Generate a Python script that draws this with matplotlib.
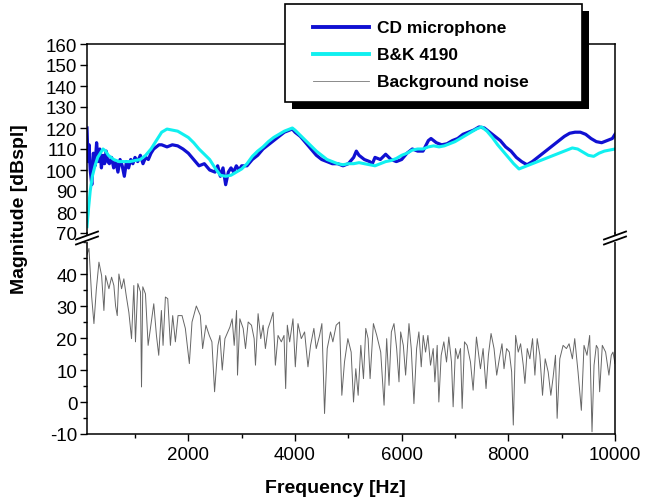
import numpy as np
import matplotlib
matplotlib.use("Agg")
import matplotlib.pyplot as plt
from matplotlib.lines import Line2D
from matplotlib.patches import Rectangle
from matplotlib.ticker import MultipleLocator

plt.rcParams['font.family'] = ['Liberation Sans', 'DejaVu Sans']
plt.rcParams['axes.unicode_minus'] = False

series_names = ["CD microphone", "B&K 4190", "Background noise"]

# CD microphone response (Hz, dBspl)
cd_freq = [100, 120, 140, 160, 190, 220, 250, 280, 310, 340, 370, 400, 430, 460, 490,
           520, 560, 600, 640, 680, 720, 760, 800, 840, 880, 920, 960, 1000, 1050, 1100,
           1150, 1200, 1250, 1300, 1350, 1400, 1450, 1500, 1600, 1700, 1800, 1900, 2000,
           2100, 2200, 2300, 2400, 2500, 2550, 2600, 2650, 2700, 2750, 2800, 2850, 2900,
           2950, 3000, 3100, 3200, 3300, 3400, 3500, 3600, 3700, 3800, 3900, 3950, 4000,
           4100, 4200, 4300, 4400, 4500, 4600, 4700, 4800, 4900, 5000, 5100, 5150, 5200,
           5300, 5400, 5450, 5500, 5600, 5700, 5800, 5900, 6000, 6100, 6200, 6300, 6400,
           6500, 6550, 6650, 6750, 6850, 6950, 7050, 7150, 7250, 7350, 7450, 7550, 7650,
           7750, 7850, 7950, 8050, 8150, 8250, 8350, 8450, 8550, 8650, 8750, 8850, 8950,
           9050, 9150, 9250, 9350, 9450, 9550, 9650, 9750, 9850, 9950, 10000]
cd_mag = [120, 104, 112, 100, 93, 108, 102, 113, 104, 110, 101, 107, 103, 109, 104,
          103, 106, 101, 104, 99, 105, 102, 97, 104, 101, 105, 103, 106, 104, 107,
          103, 106, 105, 108, 110, 111, 112, 112, 111, 112, 111.5, 110, 108,
          105, 102, 103, 100, 99, 102, 97, 101, 93, 99, 101, 99, 102,
          100, 102, 102, 105, 107, 110, 112, 114, 116, 118, 119, 119.5, 118,
          116, 113, 110, 107, 105, 104, 103, 103, 102, 103, 106, 109, 107,
          105, 104, 103, 106, 105, 107.5, 105, 104, 105, 108, 110, 109, 109,
          114, 115, 113, 112, 112.5, 114, 115, 117, 118, 119, 120.5, 120, 118,
          116, 114, 111, 109, 106, 104, 102.5, 104, 106, 108, 110, 112, 114,
          116, 117.5, 118, 118, 117, 115, 113.5, 113, 114, 115, 117]

# B&K 4190 reference microphone
bk_freq = [100, 130, 160, 200, 250, 300, 350, 400, 450, 500, 550, 600, 700, 800, 900,
           1000, 1100, 1200, 1300, 1400, 1500, 1600, 1700, 1800, 1900, 2000, 2100, 2200,
           2300, 2400, 2500, 2600, 2700, 2800, 2900, 3000, 3100, 3200, 3300, 3400, 3500,
           3600, 3700, 3800, 3900, 3950, 4000, 4100, 4200, 4300, 4400, 4500, 4600, 4700,
           4800, 4900, 5000, 5100, 5200, 5300, 5400, 5500, 5600, 5700, 5800, 5900, 6000,
           6100, 6200, 6300, 6400, 6500, 6600, 6700, 6800, 6900, 7000, 7100, 7200, 7300,
           7400, 7500, 7600, 7700, 7800, 7900, 8000, 8100, 8200, 8300, 8400, 8500, 8600,
           8700, 8800, 8900, 9000, 9100, 9200, 9300, 9400, 9500, 9600, 9700, 9800, 9900,
           10000]
bk_mag = [73, 82, 90, 97, 102, 106, 108, 110, 109, 107, 106, 105, 104, 104, 104,
          104.5, 105, 107, 110, 114, 118, 119.5, 119, 118.5, 117, 115.5, 113, 110,
          107.5, 105, 101, 97.5, 97, 97.5, 99, 100.5, 103, 106.5, 109, 111, 113.5,
          115.5, 117, 118.5, 119.5, 120, 119, 116.5, 114, 111.5, 109, 107, 105, 104,
          103, 102.5, 103, 103, 103.5, 103, 102.5, 102, 103, 104, 104.5, 105.5, 107,
          108, 109.5, 110, 110, 111, 111.5, 111, 111.5, 112.5, 113.5, 115, 116.5, 118,
          119.5, 120.5, 118.5, 115.5, 112, 109, 106, 103, 100.5, 101.5, 102.5, 103.5, 104.5,
          105.5, 106.5, 107.5, 108.5, 109.5, 110.5, 110, 108.5, 107, 106.5, 108, 109, 109.5,
          110]

# background noise
noise_freq = [100, 137, 187, 230, 274, 324, 374, 417, 449, 511, 561, 604, 636, 667, 698,
              748, 791, 835, 885, 935, 978, 1009, 1053, 1103, 1122, 1146, 1196, 1246, 1290,
              1352, 1402, 1445, 1495, 1526, 1570, 1614, 1664, 1707, 1757, 1807, 1882, 1944,
              2019, 2069, 2150, 2225, 2268, 2330, 2393, 2442, 2492, 2555,
              2592, 2636, 2686, 2779, 2822, 2860, 2904, 2922, 2966, 3028, 3072, 3122, 3184,
              3234, 3259, 3308, 3358, 3402, 3445, 3495, 3545, 3589, 3632, 3682, 3744, 3794,
              3825, 3856, 3900, 3962, 4006, 4056, 4118, 4180, 4243, 4292, 4354, 4398, 4461,
              4504, 4554, 4604, 4666, 4710, 4772, 4835, 4878, 4928, 4991, 5053,
              5097, 5140, 5184, 5234, 5284, 5327, 5371, 5408, 5470, 5533, 5607, 5670, 5719,
              5763, 5807, 5856, 5906, 5950, 5981, 6031, 6074, 6137, 6180, 6230, 6280, 6323,
              6367, 6404, 6448, 6492, 6541, 6591, 6623, 6666, 6697, 6741, 6791, 6841, 6884,
              6934, 6965, 7009, 7053, 7103, 7134, 7178, 7227, 7290, 7340, 7402, 7477, 7527,
              7582, 7626, 7676, 7732, 7782, 7831, 7881, 7919, 7968, 8018, 8062, 8093, 8137,
              8186, 8230, 8280, 8311, 8355, 8404, 8454, 8498, 8541, 8591, 8641, 8691, 8747,
              8797, 8840, 8884, 8915, 8965, 9027, 9089, 9139, 9201, 9245, 9307, 9369, 9419,
              9475, 9525, 9569, 9607, 9650, 9681, 9712, 9762, 9824, 9886, 9930, 9962, 10000]
noise_mag = [46, 48, 33, 24.5, 35, 43.7, 39.5, 28.6, 39.5, 35.4, 39, 36.4, 30, 27, 40,
             35.4, 38.5, 33.3, 28, 19.8, 36.4, 18.8, 37, 34.4, 4.7, 36, 33.8, 17.7, 23,
             30.7, 20.8, 14.6, 28.6, 17.7, 32.8, 32.3, 17.7, 27, 18.8, 27, 27, 23,
             12, 25, 30, 27, 16.7, 24, 20.8, 18.8, 3.2, 17.7,
             20.8, 10, 19.8, 23.4, 26, 17.7, 28.6, 8.4, 26, 23, 16.7, 25, 24,
             19.8, 11.5, 27.6, 19.8, 24, 16.7, 23, 25.5, 28, 11.5, 20.8, 18.8, 20.8,
             4.2, 24, 18.8, 26, 11, 24.5, 19.8, 21.9, 11, 17.7, 23, 16.7, 20.8,
             24.5, -3.6, 16.7, 21.9, 18.8, 24, 25, 2.1, 12.5, 19.8, 15.6,
             0, 10.4, 2.1, 17.7, 7.3, 23, 19.8, 7.3, 24.5, 20.8, 15.6, -1, 19.8,
             5.2, 21.9, 24.5, 16.7, 6.3, 21.9, 17.7, 8.4, 24.5, 16.7, -0.5, 16.7, 21.9,
             11, 20.8, 15.6, 20.8, 11.5, 16.7, 6.3, 17.7, 0, 14.6, 18.8, 12.5, 20.3,
             12.5, -1.5, 16.7, 13.5, 16.7, -2, 18.8, 17.7, 12.5, 3.7, 20.3, 10.4, 16.7,
             4.2, 14.6, 21.4, 16.7, 8.4, 13.5, 18.2, 10.4, 16.7, 15.6, 9.4, -7.2, 20.8,
             15.6, 18.2, 11.5, 5.8, 16.7, 13.5, 19.8, 8.4, 19.8, 14.6, 2.1, 13.5, 9.4,
             2.1, 7.8, 14.6, -5.1, 13.5, 17.7, 16.7, 18.2, 13.5, 19.8, 9.4, -2.6, 17.7,
             14.6, 20.8, -9.3, 11.5, 17.7, 16.7, 3.2, 17.7, 15.6, 8.4, 14.6, 15.6, 12]

W, H = 646, 502
fig = plt.figure(figsize=(W / 100, H / 100), dpi=100)

def fx(px):
    return px / W

def fy(py):
    return 1 - py / H

x0, x1 = 87, 615
ax_top = fig.add_axes([fx(x0), fy(234), fx(x1 - x0), fy(45) - fy(234)])
ax_bot = fig.add_axes([fx(x0), fy(435), fx(x1 - x0), fy(243) - fy(435)])

blue = "#1010d2"
cyan = "#10f0f0"
ax_top.plot(cd_freq, cd_mag, color=blue, lw=2.3, label=series_names[0])
ax_top.plot(bk_freq, bk_mag, color=cyan, lw=2.2, label=series_names[1])
ax_bot.plot(noise_freq, noise_mag, color="#666666", lw=0.7, label=series_names[2])

for ax in (ax_top, ax_bot):
    ax.set_xlim(100, 10000)
    ax.tick_params(direction="out", labelsize=13.5, width=1, length=5)
    ax.tick_params(which="minor", direction="out", length=3, width=1)
    for s in ax.spines.values():
        s.set_linewidth(1.1)

ax_top.set_ylim(70, 160)
ax_top.yaxis.set_major_locator(MultipleLocator(10))
ax_top.spines["bottom"].set_visible(False)
ax_top.set_xticks([])
ax_top.tick_params(axis="y", pad=2)

ax_bot.set_ylim(-10, 50)
ax_bot.set_yticks([-10, 0, 10, 20, 30, 40])
ax_bot.yaxis.set_minor_locator(MultipleLocator(5))
ax_bot.spines["top"].set_visible(False)
ax_bot.xaxis.set_major_locator(MultipleLocator(2000))
ax_bot.xaxis.set_minor_locator(MultipleLocator(1000))
ax_bot.tick_params(axis="y", pad=2)
ax_bot.tick_params(axis="x", pad=4)

# continue the spines across the break and draw the // marks
for xp in (x0, x1):
    fig.add_artist(Line2D([fx(xp), fx(xp)], [fy(234), fy(243)], color="black",
                          lw=1.1, transform=fig.transFigure))
    fig.add_artist(Rectangle((fx(xp - 3), fy(241.5)), fx(6), fy(236.5) - fy(241.5),
                             transform=fig.transFigure, color="white", zorder=5))
    for yc in (236.5, 241.5):
        fig.add_artist(Line2D([fx(xp - 11), fx(xp + 11)], [fy(yc + 4), fy(yc - 4)],
                              color="black", lw=1.3, transform=fig.transFigure, zorder=6))

ax_bot.set_xlabel("Frequency [Hz]", fontsize=14, fontweight="bold")
ax_bot.xaxis.set_label_coords(0.47, -0.235)
fig.text(fx(20), fy(209), "Magnitude [dBspl]", rotation=90, ha="center", va="center",
         fontsize=14, fontweight="bold")

# legend box with shadow
lx0, lx1, ly0, ly1 = 285, 582, 5, 103
sh = 7
fig.add_artist(Rectangle((fx(lx0 + sh), fy(ly1 + sh)), fx(lx1 - lx0), fy(ly0) - fy(ly1),
                         transform=fig.transFigure, facecolor="black", zorder=10))
fig.add_artist(Rectangle((fx(lx0), fy(ly1)), fx(lx1 - lx0), fy(ly0) - fy(ly1),
                         transform=fig.transFigure, facecolor="white", edgecolor="black",
                         lw=1.2, zorder=11))
handles = [(blue, 2.8), (cyan, 2.8), ("#777777", 0.6)]
for i, (name, (c, w)) in enumerate(zip(series_names, handles)):
    yy = 28 + i * 27
    fig.add_artist(Line2D([fx(313), fx(369)], [fy(yy), fy(yy)], color=c, lw=w,
                          transform=fig.transFigure, zorder=12))
    fig.text(fx(377), fy(yy), name, ha="left", va="center", fontsize=12.5,
             fontweight="bold", zorder=12)

fig.savefig("out.png", dpi=100)
